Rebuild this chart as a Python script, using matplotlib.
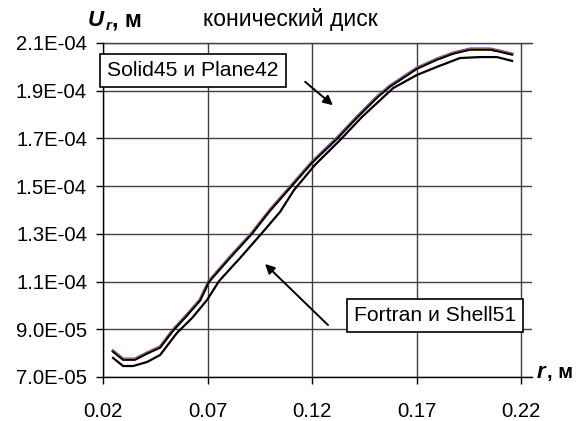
import matplotlib.pyplot as plt

plt.rcParams['font.family'] = ['Liberation Sans', 'DejaVu Sans']

# radius, m
r_upper = [0.0248, 0.0296, 0.0353, 0.0411, 0.0473, 0.0535, 0.0597, 0.0664, 0.0707,
           0.0808, 0.0913, 0.0999, 0.1095, 0.1200, 0.1320, 0.1415, 0.1511, 0.1573,
           0.1702, 0.1798, 0.1875, 0.1956, 0.2052, 0.2100, 0.2157]
r_lower = [0.0248, 0.0296, 0.0344, 0.0411, 0.0473, 0.0554, 0.0626, 0.0698, 0.0755,
           0.0856, 0.0961, 0.1047, 0.1114, 0.1214, 0.1334, 0.1439, 0.1588, 0.1702,
           0.1798, 0.1908, 0.2004, 0.2085, 0.2157]

# radial displacement, m
solid45 = [8.09e-5, 7.75e-5, 7.75e-5, 8.01e-5, 8.26e-5, 8.97e-5, 9.56e-5, 1.023e-4, 1.102e-4,
           1.203e-4, 1.304e-4, 1.400e-4, 1.496e-4, 1.601e-4, 1.702e-4, 1.790e-4, 1.874e-4, 1.920e-4,
           1.995e-4, 2.033e-4, 2.058e-4, 2.075e-4, 2.075e-4, 2.066e-4, 2.054e-4]
plane42 = [8.08e-5, 7.74e-5, 7.74e-5, 8.00e-5, 8.25e-5, 8.96e-5, 9.55e-5, 1.022e-4, 1.101e-4,
           1.202e-4, 1.303e-4, 1.399e-4, 1.495e-4, 1.600e-4, 1.701e-4, 1.789e-4, 1.873e-4, 1.919e-4,
           1.994e-4, 2.032e-4, 2.057e-4, 2.074e-4, 2.074e-4, 2.065e-4, 2.053e-4]
fortran = [8.06e-5, 7.72e-5, 7.72e-5, 7.98e-5, 8.23e-5, 8.94e-5, 9.53e-5, 1.020e-4, 1.099e-4,
           1.200e-4, 1.301e-4, 1.397e-4, 1.493e-4, 1.598e-4, 1.699e-4, 1.787e-4, 1.871e-4, 1.917e-4,
           1.992e-4, 2.030e-4, 2.055e-4, 2.072e-4, 2.072e-4, 2.063e-4, 2.051e-4]
shell51 = [7.80e-5, 7.46e-5, 7.46e-5, 7.63e-5, 7.92e-5, 8.85e-5, 9.47e-5, 1.023e-4, 1.102e-4,
           1.199e-4, 1.304e-4, 1.392e-4, 1.484e-4, 1.589e-4, 1.693e-4, 1.790e-4, 1.911e-4, 1.966e-4,
           2.000e-4, 2.037e-4, 2.041e-4, 2.041e-4, 2.025e-4]

x_ticks = [0.02, 0.07, 0.12, 0.17, 0.22]
y_ticks = [7.0e-5, 9.0e-5, 1.1e-4, 1.3e-4, 1.5e-4, 1.7e-4, 1.9e-4, 2.1e-4]

W, H = 588, 421
fig = plt.figure(figsize=(W / 100, H / 100), dpi=100)
ax = fig.add_axes([103 / W, 1 - 377 / H, (531.5 - 103) / W, (377 - 43) / H])

ax.plot(r_upper, solid45, color='#3333ff', linewidth=2.2, zorder=3)
ax.plot(r_upper, plane42, color='#ff8000', linewidth=1.6, zorder=4)
ax.plot(r_upper, fortran, color='black', linewidth=1.4, zorder=5)
ax.plot(r_lower, shell51, color='black', linewidth=1.6, zorder=5)

ax.set_xlim(0.02, 0.225)
ax.set_ylim(7.0e-5, 2.1e-4)
ax.set_xticks(x_ticks)
ax.set_xticklabels(['%.2f' % v for v in x_ticks])
ax.set_yticks(y_ticks)
ax.set_yticklabels(['%.1E' % v for v in y_ticks])
ax.tick_params(axis='both', direction='out', length=5, width=1, labelsize=14.6, colors='black')
ax.tick_params(axis='x', pad=13)
ax.tick_params(axis='y', pad=6.5)

ax.grid(True, color='#404040', linewidth=1)
ax.set_axisbelow(True)
ax.spines['top'].set_visible(False)
ax.spines['right'].set_visible(False)
ax.spines['left'].set_linewidth(1)
ax.spines['bottom'].set_linewidth(1)
# top border is just the 2.1E-04 gridline
ax.axhline(2.1e-4, color='#404040', linewidth=1, clip_on=False)

# axis titles
fig.text(88, H - 26, 'U', fontsize=16, fontweight='bold', fontstyle='italic',
         transform=None)
fig.text(106, H - 30, 'r', fontsize=11, fontweight='bold', fontstyle='italic',
         transform=None)
fig.text(112, H - 26, ', м', fontsize=16.5, fontweight='bold', transform=None)
fig.text(203, H - 26, 'конический диск', fontsize=16.5, transform=None)
fig.text(537, H - 378, 'r', fontsize=16, fontweight='bold', fontstyle='italic',
         transform=None)
fig.text(547, H - 378, ', м', fontsize=14.5, fontweight='bold', transform=None)

# labels with arrows
box = dict(boxstyle='square,pad=0.32', facecolor='white', edgecolor='black', linewidth=1.2)
arrow = dict(arrowstyle='-|>', color='black', linewidth=1.4, mutation_scale=14)

fig.text(193, H - 70.5, 'Solid45 и Plane42', fontsize=15.2, ha='center', va='center',
         bbox=box, transform=None, zorder=10)
ax.annotate('', xy=(335, H - 107), xytext=(303, H - 80), xycoords='figure pixels',
            textcoords='figure pixels', arrowprops=arrow)

fig.text(435, H - 315.5, 'Fortran и Shell51', fontsize=15.2, ha='center', va='center',
         bbox=box, transform=None, zorder=10)
ax.annotate('', xy=(263, H - 262), xytext=(330, H - 327), xycoords='figure pixels',
            textcoords='figure pixels', arrowprops=arrow)

fig.savefig('out.png', dpi=100)
